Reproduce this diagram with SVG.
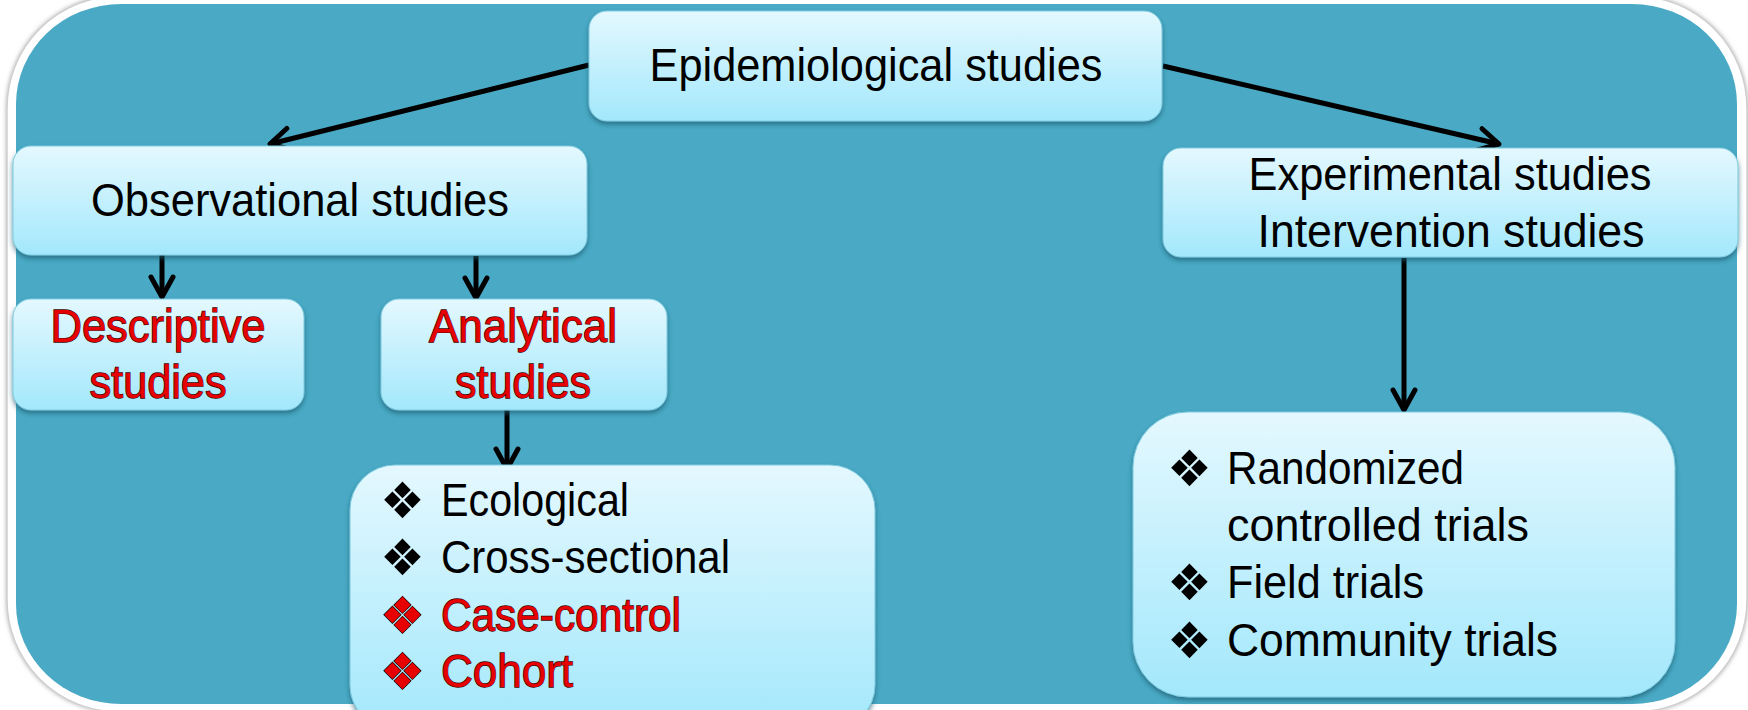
<svg xmlns="http://www.w3.org/2000/svg" width="1748" height="710" viewBox="0 0 1748 710">
  <defs>
    <linearGradient id="boxGrad" x1="0" y1="0" x2="0" y2="1">
      <stop offset="0" stop-color="#E4F8FE"/>
      <stop offset="1" stop-color="#A3E8FC"/>
    </linearGradient>
    <filter id="shadow" x="-10%" y="-10%" width="120%" height="130%">
      <feDropShadow dx="0" dy="3" stdDeviation="2.5" flood-color="#1B5A6E" flood-opacity="0.7"/>
    </filter>
    <filter id="outerShadow" x="-5%" y="-5%" width="110%" height="110%">
      <feDropShadow dx="0" dy="0" stdDeviation="2" flood-color="#777" flood-opacity="0.6"/>
    </filter>
    <marker id="arrow" markerUnits="userSpaceOnUse" viewBox="0 0 28 28" refX="24" refY="14" markerWidth="28" markerHeight="28" orient="auto">
      <path d="M4,3 L24,14 L4,25" fill="none" stroke="#000" stroke-width="5" stroke-linecap="round" stroke-linejoin="round"/>
    </marker>
    <style>
      .box { fill: url(#boxGrad); stroke: #7CCBE0; stroke-width: 1; filter: url(#shadow); }
      .t { font-family: "Liberation Sans", Arial, sans-serif; font-size: 46px; fill: #000; }
      .red { fill: #E60000; stroke: #3A0000; stroke-width: 1.3px; paint-order: stroke; }
      .bul { font-family: "DejaVu Sans", sans-serif; font-size: 50px; fill: #000; }
      .bulred { fill: #E60000; stroke: #000; stroke-width: 1.3px; paint-order: stroke; }
      .conn { stroke: #000; stroke-width: 5; fill: none; marker-end: url(#arrow); }
    </style>
  </defs>

  <g id="background">
    <rect x="7" y="-4" width="1740" height="716" rx="112" ry="112" fill="#FFFFFF" stroke="#CFCFCF" stroke-width="1.5" filter="url(#outerShadow)"/>
    <rect x="16" y="4" width="1721" height="700" rx="105" ry="100" fill="#4AAAC5"/>
  </g>

  <g id="connectors">
    <line class="conn" x1="589" y1="65" x2="270" y2="144"/>
    <line class="conn" x1="1163" y1="66" x2="1499" y2="144"/>
    <line class="conn" x1="162" y1="254" x2="162" y2="297"/>
    <line class="conn" x1="476" y1="256" x2="476" y2="298"/>
    <line class="conn" x1="507" y1="410" x2="507" y2="469"/>
    <line class="conn" x1="1404" y1="258" x2="1404" y2="410"/>
  </g>

  <g id="node-epidemiological">
    <rect class="box" x="589" y="11" width="573" height="110" rx="18"/>
    <text class="t" x="876" y="81" text-anchor="middle" textLength="453" lengthAdjust="spacingAndGlyphs">Epidemiological studies</text>
  </g>

  <g id="node-observational">
    <rect class="box" x="13" y="146" width="574" height="109" rx="18"/>
    <text class="t" x="300" y="216" text-anchor="middle" textLength="418" lengthAdjust="spacingAndGlyphs">Observational studies</text>
  </g>

  <g id="node-experimental">
    <rect class="box" x="1163" y="148" width="575" height="109" rx="18"/>
    <text class="t" x="1450" y="190" text-anchor="middle" textLength="403" lengthAdjust="spacingAndGlyphs">Experimental studies</text>
    <text class="t" x="1451" y="247" text-anchor="middle" textLength="387" lengthAdjust="spacingAndGlyphs">Intervention studies</text>
  </g>

  <g id="node-descriptive">
    <rect class="box" x="13" y="299" width="291" height="111" rx="18"/>
    <text class="t red" x="158" y="342" text-anchor="middle" textLength="215" lengthAdjust="spacingAndGlyphs">Descriptive</text>
    <text class="t red" x="158" y="398" text-anchor="middle" textLength="137" lengthAdjust="spacingAndGlyphs">studies</text>
  </g>

  <g id="node-analytical">
    <rect class="box" x="381" y="299" width="286" height="111" rx="18"/>
    <text class="t red" x="523" y="342" text-anchor="middle" textLength="188" lengthAdjust="spacingAndGlyphs">Analytical</text>
    <text class="t red" x="523" y="398" text-anchor="middle" textLength="136" lengthAdjust="spacingAndGlyphs">studies</text>
  </g>

  <g id="node-analytical-list">
    <rect class="box" x="350" y="465" width="525" height="265" rx="45"/>
    <text class="bul" x="380" y="518">❖</text>
    <text class="t" x="441" y="516" textLength="188" lengthAdjust="spacingAndGlyphs">Ecological</text>
    <text class="bul" x="380" y="575">❖</text>
    <text class="t" x="441" y="573" textLength="289" lengthAdjust="spacingAndGlyphs">Cross-sectional</text>
    <text class="bul bulred" x="380" y="633">❖</text>
    <text class="t red" x="441" y="631" textLength="240" lengthAdjust="spacingAndGlyphs">Case-control</text>
    <text class="bul bulred" x="380" y="689">❖</text>
    <text class="t red" x="441" y="687" textLength="132" lengthAdjust="spacingAndGlyphs">Cohort</text>
  </g>

  <g id="node-experimental-list">
    <rect class="box" x="1133" y="412" width="542" height="285" rx="55"/>
    <text class="bul" x="1167" y="486">❖</text>
    <text class="t" x="1227" y="484" textLength="237" lengthAdjust="spacingAndGlyphs">Randomized</text>
    <text class="t" x="1227" y="541" textLength="302" lengthAdjust="spacingAndGlyphs">controlled trials</text>
    <text class="bul" x="1167" y="600">❖</text>
    <text class="t" x="1227" y="598" textLength="197" lengthAdjust="spacingAndGlyphs">Field trials</text>
    <text class="bul" x="1167" y="658">❖</text>
    <text class="t" x="1227" y="656" textLength="331" lengthAdjust="spacingAndGlyphs">Community trials</text>
  </g>
</svg>
